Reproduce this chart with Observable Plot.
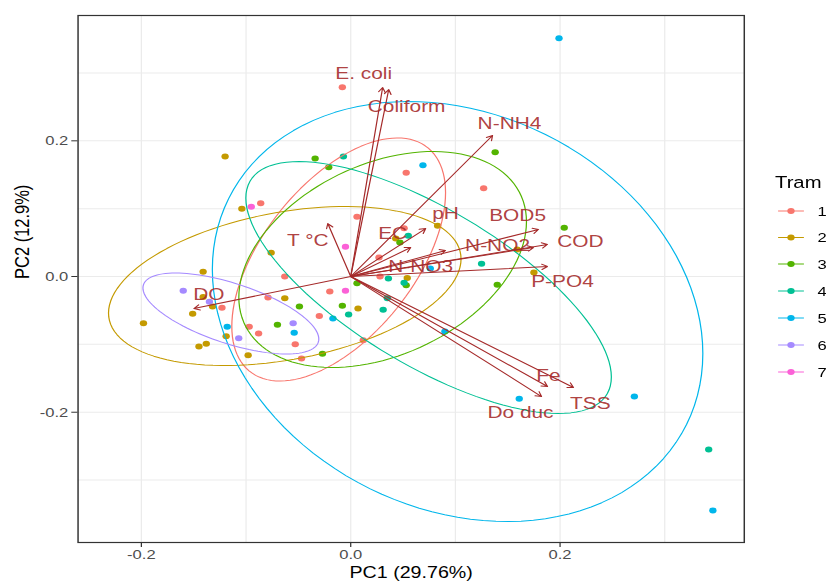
<!DOCTYPE html>
<html><head><meta charset="utf-8">
<script src="https://cdn.jsdelivr.net/npm/d3@7"></script>
<script src="https://cdn.jsdelivr.net/npm/@observablehq/plot@0.6"></script>
<style>
html,body{margin:0;padding:0;background:#fff;overflow:hidden;}
#wrap{position:relative;width:672px;height:584px;transform:scaleX(1.2292);transform-origin:0 0;}
#wrap svg{display:block;}
#legend{position:absolute;left:0;top:0;overflow:visible;}
</style></head><body><div id="wrap"></div>
<script>
// ---- groups ----
const groups = ["1","2","3","4","5","6","7"];
const groupColors = ["#F8766D","#C49A00","#53B400","#00C094","#00B6EB","#A58AFF","#FB61D7"];

// ---- individuals (PC1, PC2) per group ----
const g1PC1 = [-0.008, 0.053, 0.127, -0.086, 0.006, 0.027, 0.051, -0.063, 0.028, -0.020, -0.079, -0.123, -0.097, -0.088, -0.030, -0.053, -0.047, 0.012];
const g1PC2 = [0.279, 0.153, 0.130, 0.108, 0.088, 0.028, 0.071, 0.000, 0.000, -0.022, -0.031, -0.046, -0.074, -0.084, -0.058, -0.100, -0.121, -0.094];
const g2PC1 = [-0.120, -0.104, -0.076, -0.141, 0.043, 0.054, 0.083, 0.159, 0.175, -0.141, -0.132, -0.151, -0.198, -0.063, -0.119, -0.145, -0.138, -0.098, 0.007];
const g2PC2 = [0.177, 0.100, 0.035, 0.007, 0.056, -0.002, 0.075, 0.040, 0.006, -0.030, -0.044, -0.055, -0.069, -0.032, -0.088, -0.103, -0.099, -0.116, -0.047];
const g3PC1 = [-0.034, -0.021, 0.138, 0.204, 0.140, 0.047, 0.006, 0.053, -0.049, -0.070, -0.008, -0.027];
const g3PC2 = [0.174, 0.161, 0.183, 0.072, -0.012, 0.050, -0.010, -0.013, -0.044, -0.071, -0.043, -0.114];
const g4PC1 = [-0.007, 0.055, 0.036, 0.051, 0.125, 0.035, 0.031, -0.002, 0.342];
const g4PC2 = [0.177, 0.060, -0.003, -0.009, 0.019, -0.032, -0.049, -0.056, -0.255];
const g5PC1 = [0.199, 0.069, 0.076, 0.090, 0.161, 0.271, 0.346, -0.118, -0.017, -0.054];
const g5PC2 = [0.351, 0.164, 0.012, -0.081, -0.180, -0.177, -0.345, -0.074, -0.062, -0.083];
const g6PC1 = [-0.160, -0.135, -0.107, -0.055];
const g6PC2 = [-0.021, -0.037, -0.091, -0.069];
const g7PC1 = [-0.095, -0.005, -0.005];
const g7PC2 = [0.103, 0.044, -0.021];

// ---- concentration ellipses: centre, half extents, tilt ----
const ellGroup = ["1","2","3","4","5","6"];
const ellCx    = [-0.0115, -0.0630, 0.0305, 0.0744, 0.1021, -0.1145];
const ellCy    = [0.0251, -0.0140, 0.0251, -0.0162, -0.0516, -0.0545];
const ellHalfW = [0.1021, 0.1684, 0.1374, 0.1746, 0.2343, 0.0840];
const ellHalfH = [0.1791, 0.1172, 0.1592, 0.1857, 0.3095, 0.0597];
const ellTilt  = [0.55, 0.34, 0.35, -0.71, -0.20, -0.63];

// ---- variables (loadings) ----
const varNames = ["E. coli","Coliform","N-NH4","T °C","EC","pH","N-NO3","BOD5","N-NO2","COD","P-PO4","DO","Fe","TSS","Do duc"];
const varPC1 = [0.0305, 0.0363, 0.1355, -0.0219, 0.0573, 0.0716, 0.0906, 0.1794, 0.1746, 0.1880, 0.1880, -0.1498, 0.1880, 0.2128, 0.1823];
const varPC2 = [0.2786, 0.2756, 0.2078, 0.0781, 0.0427, 0.0707, 0.0383, 0.0693, 0.0427, 0.0472, 0.0147, -0.0472, -0.1621, -0.1636, -0.1769];
const labelPC1 = [0.0124, 0.0534, 0.1517, -0.0410, 0.0401, 0.0906, 0.0668, 0.1594, 0.1403, 0.2195, 0.2023, -0.1355, 0.1889, 0.2290, 0.1622];
const labelPC2 = [0.2992, 0.2506, 0.2255, 0.0531, 0.0634, 0.0929, 0.0147, 0.0899, 0.0457, 0.0516, -0.0074, -0.0265, -0.1459, -0.1872, -0.2004];

// ---- axes ----
const xTicks = [-0.2, 0, 0.2];
const yTicks = [-0.2, 0, 0.2];
const xGrid = [-0.2, -0.1, 0, 0.1, 0.2, 0.3];
const yGrid = [-0.3, -0.2, -0.1, 0, 0.1, 0.2, 0.3];
const xTitle = "PC1 (29.76%)";
const yTitle = "PC2 (12.9%)";
const legendTitle = "Tram";

// ---- build tables ----
const pcx = [g1PC1, g2PC1, g3PC1, g4PC1, g5PC1, g6PC1, g7PC1];
const pcy = [g1PC2, g2PC2, g3PC2, g4PC2, g5PC2, g6PC2, g7PC2];
const points = [];
groups.forEach((g, i) => pcx[i].forEach((x, j) => points.push({g, x, y: pcy[i][j]})));

const ellPts = [];
ellGroup.forEach((g, i) => {
  const r = ellTilt[i], s = Math.sqrt(1 - r * r);
  for (let k = 0; k < 120; k++) {
    const t = 2 * Math.PI * k / 120;
    ellPts.push({g, x: ellCx[i] + ellHalfW[i] * Math.cos(t),
                 y: ellCy[i] + ellHalfH[i] * (r * Math.cos(t) + s * Math.sin(t))});
  }
});

const vars = varNames.map((n, i) => ({name: n, x: varPC1[i], y: varPC2[i], lx: labelPC1[i], ly: labelPC2[i]}));

const fmt = d => d.toFixed(1);
const brown = "#a52a2a";
const font = "'Liberation Sans', Arial, sans-serif";

const chart = Plot.plot({
  width: 672, height: 584,
  marginLeft: 63, marginRight: 67, marginTop: 15, marginBottom: 42,
  x: {domain: [-0.2605, 0.3760]},
  y: {domain: [-0.3920, 0.3847]},
  color: {domain: groups, range: groupColors},
  style: {fontFamily: font, background: "#fff"},
  marks: [
    Plot.gridX(xGrid, {stroke: "#ebebeb", strokeOpacity: 1, strokeWidth: 1}),
    Plot.gridY(yGrid, {stroke: "#ebebeb", strokeOpacity: 1, strokeWidth: 1}),
    Plot.axisX(xTicks, {tickFormat: fmt, tickSize: 5, tickPadding: 2, fontSize: 13.5, fill: "#4d4d4d", stroke: "#333", label: null}),
    Plot.axisY(yTicks, {tickFormat: fmt, tickSize: 5, tickPadding: 3, fontSize: 13.5, fill: "#4d4d4d", stroke: "#333", label: null}),
    Plot.dot(points, {x: "x", y: "y", fill: "g", r: 3, stroke: null}),
    Plot.line(ellPts, {x: "x", y: "y", z: "g", stroke: "g", curve: "linear-closed", strokeWidth: 1}),
    Plot.arrow(vars, {x1: d => 0, y1: d => 0, x2: "x", y2: "y", stroke: brown, strokeWidth: 1, headLength: 8, headAngle: 60}),
    Plot.text(vars, {x: "lx", y: "ly", text: "name", fill: brown, fontSize: 17, fillOpacity: 0.9}),
    Plot.frame({stroke: "#333", strokeWidth: 1.2}),
    Plot.text([xTitle], {frameAnchor: "bottom", dy: 35, text: d => d, fontSize: 16, fill: "#000"}),
    Plot.text([yTitle], {frameAnchor: "left", dx: -45, rotate: -90, text: d => d, fontSize: 16.5, fill: "#000"})
  ]
});
const wrap = document.getElementById("wrap");
wrap.appendChild(chart);

// ---- legend (drawn with the same colour scale) ----
const colorScale = chart.scale("color");
const lg = d3.select(wrap).append("svg").attr("id", "legend")
  .attr("width", 672).attr("height", 584)
  .style("font-family", font);
lg.append("text").attr("x", 630.5).attr("y", 188).attr("font-size", 16.5).attr("fill", "#000").text(legendTitle);
const keyY = [211, 237.5, 264, 291, 318, 345, 372];
groups.forEach((g, i) => {
  const c = colorScale.apply(g);
  const row = lg.append("g").attr("transform", `translate(0,${keyY[i]})`);
  row.append("line").attr("x1", 633).attr("x2", 654).attr("y1", 0).attr("y2", 0).attr("stroke", c).attr("stroke-width", 1);
  row.append("circle").attr("cx", 643.5).attr("cy", 0).attr("r", 3).attr("fill", c);
  row.append("text").attr("x", 665).attr("y", 0).attr("dy", "0.36em").attr("font-size", 13.5).attr("fill", "#000").text(g);
});
</script></body></html>
